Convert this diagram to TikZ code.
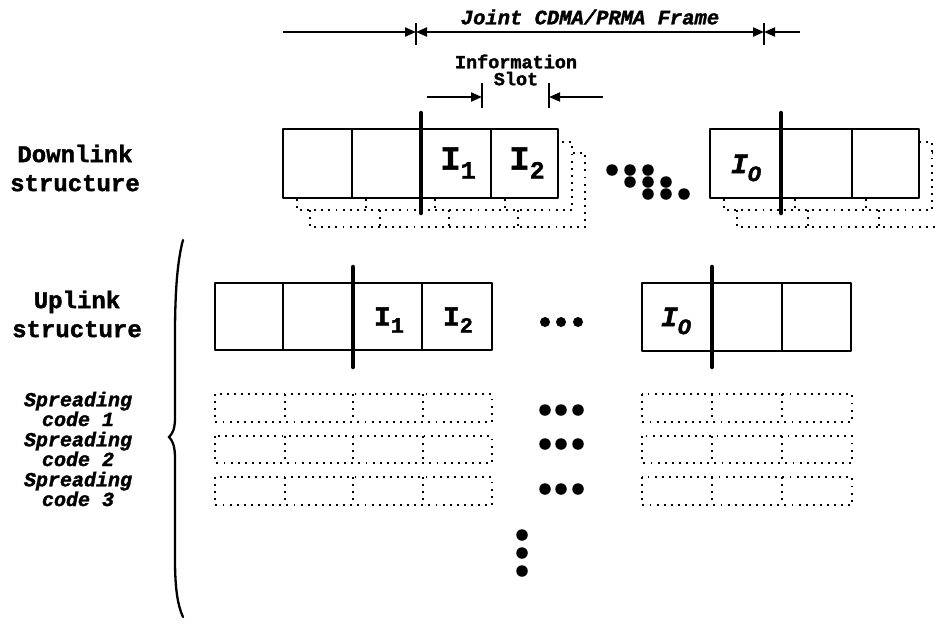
\documentclass[tikz,border=0pt]{standalone}
\usepackage{fontspec}
\setmonofont{Liberation Mono}[BoldFeatures={FakeBold=1.6},BoldItalicFeatures={FakeBold=1.6}]
\usetikzlibrary{arrows.meta}
\begin{document}
\begin{tikzpicture}[x=1pt,y=-1pt,
  >={Triangle[length=11pt,width=9pt]},
  box/.style={line width=2.5pt, fill=white, line join=round},
  cellline/.style={line width=2.5pt},
  sepline/.style={line width=4.5pt, line cap=round},
  shadowbox/.style={line width=1.9pt, dash pattern=on 1.9pt off 5.2pt, fill=white},
  shadowline/.style={line width=1.9pt, dash pattern=on 1.9pt off 5.2pt},
  dimline/.style={line width=2pt},
  lbl/.style={font=\ttfamily\bfseries\fontsize{24}{29}\selectfont, align=center, inner sep=0pt},
  slbl/.style={font=\ttfamily\bfseries\itshape\fontsize{20}{15}\selectfont, align=center, inner sep=0pt},
  cellbig/.style={font=\ttfamily\bfseries\fontsize{34}{34}\selectfont, inner sep=0pt},
  cellmid/.style={font=\ttfamily\bfseries\fontsize{28}{28}\selectfont, inner sep=0pt},
  dotbig/.style={circle, fill=black, inner sep=0pt, minimum size=11.5pt},
  dotsmall/.style={circle, fill=black, inner sep=0pt, minimum size=10pt},
]
\useasboundingbox (0,0) rectangle (936,625);

% ---------- top dimension lines ----------
\coordinate (fl) at (283,32);
\coordinate (t1) at (416,32);
\coordinate (t2) at (764,32);
\coordinate (fr) at (800,32);
\coordinate (t1a) at (416,23); \coordinate (t1b) at (416,45);
\coordinate (t2a) at (764,23); \coordinate (t2b) at (764,45);
\draw[dimline] (t1a) -- (t1b);
\draw[dimline] (t2a) -- (t2b);
\draw[dimline,->] (fl) -- (t1);
\draw[dimline,<->] (t1) -- (t2);
\draw[dimline,->] (fr) -- (t2);
\node[font=\ttfamily\bfseries\itshape\fontsize{20.5}{20.5}\selectfont, inner sep=0pt] (frame) at (590,17) {Joint CDMA/PRMA Frame};

\node[font=\ttfamily\bfseries\fontsize{18.5}{17}\selectfont, align=center, inner sep=0pt] (slot) at (516,70) {Information\\Slot};
\coordinate (sl) at (427,97);
\coordinate (s1) at (482,97);
\coordinate (s2) at (549,97);
\coordinate (sr) at (603,97);
\coordinate (s1a) at (482,83); \coordinate (s1b) at (482,108);
\coordinate (s2a) at (549,83); \coordinate (s2b) at (549,108);
\draw[dimline] (s1a) -- (s1b);
\draw[dimline] (s2a) -- (s2b);
\draw[dimline,->] (sl) -- (s1);
\draw[dimline,->] (sr) -- (s2);

% ---------- downlink ----------
\node[lbl] (down) at (75,168) {Downlink\\structure};

\begin{scope}
\clip (0,0) rectangle (936,625);
% left group shadows
\filldraw[shadowbox] (310,153) rectangle (585,227);
\foreach \x in {380,449,518} \draw[shadowline] (\x,153) -- (\x,227);
\filldraw[shadowbox] (297,142) rectangle (572,210);
\foreach \x in {366,435,505} \draw[shadowline] (\x,142) -- (\x,210);
% right group shadows
\filldraw[shadowbox] (737,153) rectangle (960,227);
\foreach \x in {808,879} \draw[shadowline] (\x,153) -- (\x,227);
\filldraw[shadowbox] (724,142) rectangle (932,210);
\foreach \x in {795,866} \draw[shadowline] (\x,142) -- (\x,210);
\end{scope}

\filldraw[box] (283,129) rectangle (558,198);
\draw[cellline] (352,129) -- (352,198);
\draw[cellline] (491,129) -- (491,198);
\draw[sepline] (421,113) -- (421,213);
\node[cellbig] (dI1) at (458,163) {I\raisebox{-9pt}{\fontsize{25}{25}\selectfont 1}};
\node[cellbig] (dI2) at (527,163) {I\raisebox{-9pt}{\fontsize{25}{25}\selectfont 2}};

\filldraw[box] (710,129) rectangle (919,198);
\draw[cellline] (852,129) -- (852,198);
\draw[sepline] (781,113) -- (781,213);
\node[font=\ttfamily\bfseries\itshape\fontsize{28}{28}\selectfont, inner sep=0pt] (dIo) at (746,168) {I\raisebox{-8pt}{\fontsize{22}{22}\selectfont O}};

\node[dotbig] (dd1) at (612,170) {};
\node[dotbig] (dd2) at (630,170) {};
\node[dotbig] (dd3) at (648,170) {};
\node[dotbig] (dd4) at (630,182) {};
\node[dotbig] (dd5) at (648,182) {};
\node[dotbig] (dd6) at (666,182) {};
\node[dotbig] (dd7) at (648,194) {};
\node[dotbig] (dd8) at (666,194) {};
\node[dotbig] (dd9) at (684,194) {};

% ---------- uplink ----------
\node[lbl] (up) at (77,314) {Uplink\\structure};

\filldraw[box] (215,283) rectangle (492,350);
\draw[cellline] (283,283) -- (283,350);
\draw[cellline] (422,283) -- (422,350);
\draw[sepline] (353,267) -- (353,367);
\node[cellmid] (uI1) at (389,320) {I\raisebox{-7pt}{\fontsize{22}{22}\selectfont 1}};
\node[cellmid] (uI2) at (458,320) {I\raisebox{-7pt}{\fontsize{22}{22}\selectfont 2}};

\filldraw[box] (642,283) rectangle (851,351);
\draw[cellline] (782,283) -- (782,351);
\draw[sepline] (712,267) -- (712,367);
\node[font=\ttfamily\bfseries\itshape\fontsize{28}{28}\selectfont, inner sep=0pt] (uIo) at (676,321) {I\raisebox{-8pt}{\fontsize{22}{22}\selectfont O}};

\node[dotsmall] (ud1) at (545,322) {};
\node[dotsmall] (ud2) at (561,322) {};
\node[dotsmall] (ud3) at (578,322) {};

% ---------- spreading codes ----------
\node[slbl] (sc1) at (78,409) {Spreading\\code 1};
\node[slbl] (sc2) at (78,449) {Spreading\\code 2};
\node[slbl] (sc3) at (78,489) {Spreading\\code 3};

\foreach \ya/\yb in {394/422, 436/463, 477/505} {
  \draw[shadowbox] (215,\ya) rectangle (492,\yb);
  \foreach \x in {285,353,423} \draw[shadowline] (\x,\ya) -- (\x,\yb);
  \draw[shadowbox] (642,\ya) rectangle (852,\yb);
  \foreach \x in {712,782} \draw[shadowline] (\x,\ya) -- (\x,\yb);
}

\foreach \y/\n in {410/a, 444/b, 489/c} {
  \node[dotbig] (sd1\n) at (545,\y) {};
  \node[dotbig] (sd2\n) at (561,\y) {};
  \node[dotbig] (sd3\n) at (578,\y) {};
}
\node[dotbig] (vd1) at (522,535) {};
\node[dotbig] (vd2) at (522,553) {};
\node[dotbig] (vd3) at (522,571) {};

% ---------- brace ----------
\draw[line width=2.3pt, line cap=round] (183,240)
  .. controls (177,262) and (175,295) .. (175,335)
  -- (175,418)
  .. controls (175,430) and (172,434) .. (169,437)
  .. controls (172,440) and (175,445) .. (175,458)
  -- (175,560)
  .. controls (175,590) and (178,606) .. (183,617);
\end{tikzpicture}
\end{document}
